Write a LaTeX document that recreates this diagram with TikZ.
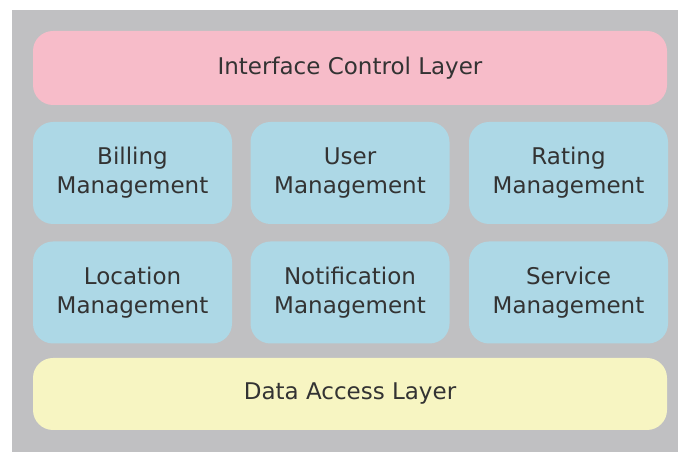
\documentclass[tikz,border=0pt]{standalone}
\usepackage{fontspec}
\setmainfont{DejaVu Sans}
\usetikzlibrary{positioning}
\definecolor{bgray}{HTML}{C0C0C2}
\definecolor{pinkl}{HTML}{F7BCC9}
\definecolor{bluel}{HTML}{ADD8E6}
\definecolor{yellowl}{HTML}{F7F5C2}
\definecolor{txtgray}{HTML}{333333}
\tikzstyle{layer} = [rectangle, fill=pinkl, text=txtgray, align=center,
    minimum width=634pt, minimum height=74pt, rounded corners=20pt, inner sep=0pt]
\tikzstyle{module} = [rectangle, fill=bluel, text=txtgray, align=center,
    minimum width=199pt, minimum height=102pt, rounded corners=20pt, inner sep=0pt]

\begin{document}
\begin{tikzpicture}[x=1pt, y=1pt, every node/.style={font=\fontsize{23}{29}\selectfont}]
    \useasboundingbox (0,0) rectangle (678,452);
    \fill [bgray] (12,0) rectangle (678,442);
    % Place nodes
    \node [layer] (iface) at (350,384) {Interface Control Layer};
    \node [module, below of=iface, node distance=105pt] (user) {User\\Management};
    \node [module, left of=user, node distance=217.5pt] (billing) {Billing\\Management};
    \node [module, right of=user, node distance=218.5pt] (rating) {Rating\\Management};
    \node [module, below of=user, node distance=119.5pt] (notif) {Notification\\Management};
    \node [module, left of=notif, node distance=217.5pt] (location) {Location\\Management};
    \node [module, right of=notif, node distance=218.5pt] (service) {Service\\Management};
    \node [layer, fill=yellowl, minimum height=72pt, below of=notif,
        node distance=101.5pt] (data) {Data Access Layer};
\end{tikzpicture}
\end{document}
